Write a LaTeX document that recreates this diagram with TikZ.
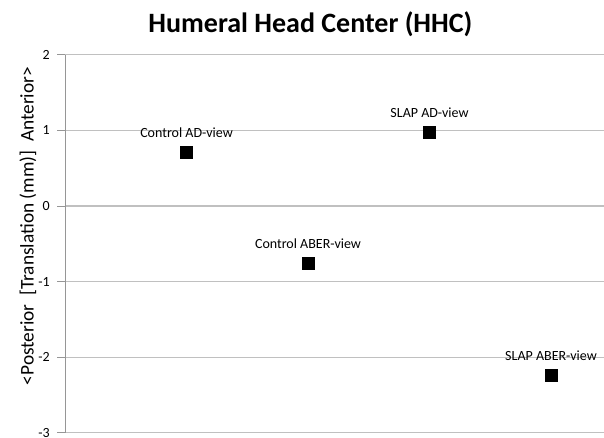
\documentclass[tikz,border=0pt]{standalone}
\usepackage{fontspec}
\setmainfont{Carlito}
\usepackage{xcolor}
\usepackage{tikz}
\usetikzlibrary{positioning}

\definecolor{gridgray}{RGB}{192,192,192}
\definecolor{axisgray}{RGB}{150,150,150}

\tikzset{
  datapt/.style={fill=black,inner sep=0pt,minimum size=9.75pt},
  ptlabel/.style={inner sep=0pt,font=\fontsize{10.5}{12}\selectfont},
  ticklabel/.style={inner sep=0pt,anchor=east,font=\fontsize{10.5}{12}\selectfont}
}

\begin{document}
\begin{tikzpicture}[x=91.125pt,y=56.7pt]
    \useasboundingbox (-0.535,-3.056) rectangle (4.436,2.725);
    %
    \foreach \v in {2,1,0,-1,-2,-3} {
      \draw[gridgray,line width=0.9pt] (0,\v) -- (4.436,\v);
      \draw[axisgray,line width=0.6pt] (-0.062,\v) -- (0,\v);
      \node[ticklabel] (tick\v) at (-0.123,\v) {\v};
    }
    \draw[axisgray,line width=0.6pt] (0,-3) -- (0,2);
    %
    \node[font=\fontsize{21}{25}\selectfont\bfseries] (title) at (2.02,2.4) {Humeral Head Center (HHC)};
    \node[rotate=90,font=\fontsize{14.5}{17}\selectfont] (ylab) at (-0.305,-0.265)
      {<Posterior\ \ [Translation (mm)]\ \ Anterior>};
    %
    \node[datapt] (cad) at (1,0.71) {};
    \node[datapt] (caber) at (2,-0.76) {};
    \node[datapt] (sad) at (3,0.97) {};
    \node[datapt] (saber) at (4,-2.24) {};
    \node[ptlabel,above=6pt of cad] (cadlab) {Control AD-view};
    \node[ptlabel,above=6pt of caber] (caberlab) {Control ABER-view};
    \node[ptlabel,above=6pt of sad] (sadlab) {SLAP AD-view};
    \node[ptlabel,above=6pt of saber] (saberlab) {SLAP ABER-view};
\end{tikzpicture}
\end{document}
